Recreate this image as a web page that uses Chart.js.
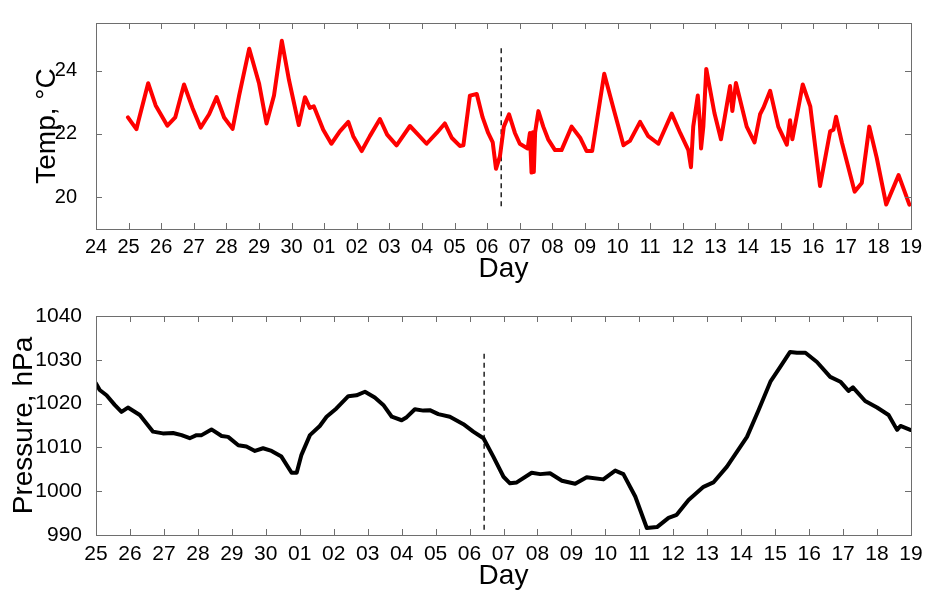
<!DOCTYPE html>
<html>
<head>
<meta charset="utf-8">
<title>Temperature and pressure</title>
<script src="https://cdn.jsdelivr.net/npm/chart.js@4.4.1/dist/chart.umd.min.js"></script>
<style>
  html, body { margin: 0; background: #fff; }
  .panel { position: absolute; left: 0; }
  #top { top: 0; }
  #bottom { top: 292px; }
</style>
</head>
<body>
<div class="panel" id="top"><canvas id="temp" width="928" height="292"></canvas></div>
<div class="panel" id="bottom"><canvas id="pres" width="928" height="302"></canvas></div>
<script>
// x values are days counted from the 24th (0 = 24, 7 = 01, 25 = 19)
const dayLabels = ["24", "25", "26", "27", "28", "29", "30", "01", "02", "03", "04", "05", "06",
  "07", "08", "09", "10", "11", "12", "13", "14", "15", "16", "17", "18", "19"];

const tempTicks = [20, 22, 24];
const presTicks = [990, 1000, 1010, 1020, 1030, 1040];

const tempDays = [0.98, 1.10, 1.24, 1.30, 1.60, 1.83, 2.19, 2.43, 2.70, 2.96, 3.21, 3.47, 3.70, 3.93,
  4.19, 4.39, 4.70, 5.00, 5.23, 5.46, 5.70, 5.92, 6.22, 6.41, 6.56, 6.68, 6.74, 6.97, 7.22, 7.48,
  7.74, 7.89, 8.15, 8.40, 8.71, 8.93, 9.22, 9.63, 9.88, 10.14, 10.45, 10.70, 10.91, 11.16, 11.27,
  11.47, 11.68, 11.86, 12.03, 12.17, 12.27, 12.39, 12.51, 12.67, 12.85, 13.00, 13.24, 13.31, 13.36,
  13.40, 13.43, 13.47, 13.57, 13.72, 13.87, 14.08, 14.28, 14.59, 14.85, 15.05, 15.22, 15.59, 15.87,
  16.18, 16.25, 16.38, 16.69, 16.94, 17.25, 17.66, 17.92, 18.17, 18.25, 18.32, 18.46, 18.52, 18.56,
  18.63, 18.72, 18.97, 19.17, 19.45, 19.52, 19.63, 19.96, 20.20, 20.37, 20.47, 20.68, 20.93, 21.19,
  21.29, 21.36, 21.68, 21.91, 22.21, 22.52, 22.62, 22.70, 22.88, 23.27, 23.49, 23.72, 23.95, 24.24,
  24.62, 24.95];
const tempValues = [22.52, 22.35, 22.15, 22.40, 23.60, 22.90, 22.26, 22.52, 23.56, 22.82, 22.20, 22.62,
  23.16, 22.52, 22.16, 23.21, 24.69, 23.60, 22.33, 23.21, 24.94, 23.70, 22.28, 23.16, 22.82, 22.87,
  22.72, 22.13, 21.69, 22.08, 22.38, 21.93, 21.46, 21.93, 22.47, 21.98, 21.64, 22.25, 21.98, 21.69,
  22.03, 22.33, 21.88, 21.62, 21.64, 23.21, 23.26, 22.52, 22.03, 21.73, 20.90, 21.29, 22.23, 22.62,
  22.03, 21.69, 21.54, 22.03, 20.78, 22.05, 20.80, 22.05, 22.72, 22.23, 21.83, 21.49, 21.49, 22.23,
  21.88, 21.46, 21.46, 23.90, 22.82, 21.64, 21.70, 21.78, 22.38, 21.93, 21.69, 22.64, 22.03, 21.49,
  20.95, 22.23, 23.21, 22.40, 21.54, 22.23, 24.05, 22.66, 21.83, 23.51, 22.72, 23.61, 22.23, 21.73,
  22.62, 22.82, 23.36, 22.23, 21.66, 22.43, 21.83, 23.56, 22.87, 20.36, 22.08, 22.13, 22.54, 21.73,
  20.18, 20.45, 22.23, 21.24, 19.77, 20.70, 19.77];

const presDays = [1.00, 1.11, 1.31, 1.55, 1.75, 1.94, 2.29, 2.68, 2.97, 3.27, 3.52, 3.76, 3.96, 4.11,
  4.40, 4.70, 4.89, 5.19, 5.43, 5.68, 5.92, 6.17, 6.46, 6.76, 6.91, 7.05, 7.30, 7.59, 7.79, 8.08,
  8.43, 8.67, 8.92, 9.21, 9.46, 9.71, 10.00, 10.15, 10.39, 10.64, 10.83, 11.08, 11.42, 11.82, 12.11,
  12.41, 12.70, 13.00, 13.19, 13.39, 13.83, 14.08, 14.37, 14.72, 15.11, 15.45, 15.94, 16.29, 16.53,
  16.88, 17.22, 17.52, 17.86, 18.10, 18.45, 18.89, 19.18, 19.58, 20.17, 20.51, 20.86, 21.15, 21.44,
  21.64, 21.89, 22.23, 22.62, 22.92, 23.16, 23.29, 23.65, 24.00, 24.34, 24.59, 24.69, 24.98];
const presValues = [1024.6, 1023.1, 1021.9, 1019.7, 1018.1, 1019.1, 1017.4, 1013.6, 1013.2, 1013.3,
  1012.8, 1012.1, 1012.8, 1012.8, 1014.1, 1012.6, 1012.4, 1010.5, 1010.2, 1009.2, 1009.8, 1009.2,
  1007.9, 1004.2, 1004.2, 1008.3, 1012.8, 1014.9, 1017.0, 1018.9, 1021.7, 1021.9, 1022.7, 1021.4,
  1019.7, 1017.0, 1016.2, 1016.9, 1018.7, 1018.4, 1018.5, 1017.6, 1017.0, 1015.3, 1013.6, 1012.1,
  1007.9, 1003.3, 1001.8, 1002.0, 1004.2, 1003.9, 1004.1, 1002.4, 1001.7, 1003.2, 1002.7, 1004.7,
  1003.9, 998.8, 991.6, 991.8, 993.9, 994.6, 998.0, 1001.0, 1002.0, 1005.6, 1012.4, 1018.5, 1025.0,
  1028.4, 1031.8, 1031.6, 1031.6, 1029.5, 1026.1, 1025.0, 1022.9, 1023.7, 1020.6, 1019.1, 1017.4,
  1014.0, 1014.9, 1014.0];

// event marker (dashed vertical line) and its vertical extent on each panel
const markerDay = 12.43;
const tempMarkerSpan = [19.72, 24.83];
const presMarkerSpan = [991.2, 1032.2];

const FONT = "'Liberation Sans', Arial, Helvetica, sans-serif";
const pts = (xs, ys) => xs.map((x, i) => ({ x, y: ys[i] }));

// matlab-style frame: grey box with short inward ticks on all four sides
const boxTicks = {
  id: "boxTicks",
  afterDatasetsDraw(chart) {
    const { ctx, chartArea: a, scales } = chart;
    const len = 6;
    ctx.save();
    ctx.strokeStyle = "#6e6e6e";
    ctx.lineWidth = 1;
    ctx.beginPath();
    scales.x.ticks.forEach((t) => {
      const px = Math.round(scales.x.getPixelForValue(t.value)) + 0.5;
      ctx.moveTo(px, a.bottom); ctx.lineTo(px, a.bottom - len);
      ctx.moveTo(px, a.top); ctx.lineTo(px, a.top + len);
    });
    scales.y.ticks.forEach((t) => {
      const py = Math.round(scales.y.getPixelForValue(t.value)) + 0.5;
      ctx.moveTo(a.left, py); ctx.lineTo(a.left + len, py);
      ctx.moveTo(a.right, py); ctx.lineTo(a.right - len, py);
    });
    ctx.stroke();
    ctx.strokeRect(Math.round(a.left) + 0.5, Math.round(a.top) + 0.5,
      Math.round(a.right - a.left), Math.round(a.bottom - a.top));
    ctx.restore();
  },
};

function panel(id, cfg) {
  return new Chart(document.getElementById(id), {
    type: "line",
    data: {
      datasets: [
        { data: cfg.series, borderColor: cfg.color, borderWidth: 4, pointRadius: 0,
          tension: 0, fill: false, borderJoinStyle: "round", borderCapStyle: "round" },
        { data: cfg.marker, borderColor: "#222", borderWidth: 1.5, borderDash: [5, 4],
          pointRadius: 0, fill: false },
      ],
    },
    options: {
      responsive: false,
      animation: false,
      layout: { padding: cfg.padding },
      plugins: { legend: { display: false }, tooltip: { enabled: false } },
      scales: {
        x: {
          type: "linear", min: cfg.xMin, max: 25,
          grid: { display: false }, border: { display: false },
          ticks: { stepSize: 1, autoSkip: false, maxRotation: 0, color: "#000",
            padding: cfg.xTickPad, font: { family: FONT, size: cfg.xTickSize, lineHeight: 1 },
            callback: (v) => dayLabels[v] },
          title: { display: true, text: "Day", color: "#000",
            font: { family: FONT, size: 28 }, padding: { top: 0, bottom: cfg.xTitlePad } },
          afterFit: (s) => { s.height = cfg.xHeight; },
        },
        y: {
          min: cfg.yMin, max: cfg.yMax,
          grid: { display: false }, border: { display: false },
          ticks: { color: "#000", padding: cfg.yTickPad,
            font: { family: FONT, size: cfg.yTickSize },
            callback: (v) => String(v) },
          afterBuildTicks: (s) => { s.ticks = cfg.yTicks.map((v) => ({ value: v })); },
          title: { display: true, text: cfg.yTitle, color: "#000",
            font: { family: FONT, size: 28 }, padding: { top: cfg.yTitlePad, bottom: 0 } },
          afterFit: (s) => { s.width = 96; },
        },
      },
    },
    plugins: [boxTicks],
  });
}

panel("temp", {
  series: pts(tempDays, tempValues),
  marker: pts([markerDay, markerDay], tempMarkerSpan),
  color: "#ff0000",
  padding: { top: 9, right: 17, left: 0, bottom: 0 },
  xMin: 0, xHeight: 63, xTickPad: 0, xTickSize: 20, xTitlePad: 6,
  yMin: 19, yMax: 25.5, yTicks: tempTicks, yTickPad: 11, yTickSize: 20,
  yTitle: "Temp, \u00B0C", yTitlePad: 30,
});

panel("pres", {
  series: pts(presDays, presValues),
  marker: pts([markerDay, markerDay], presMarkerSpan),
  color: "#000000",
  padding: { top: 24, right: 17, left: 0, bottom: 0 },
  xMin: 1, xHeight: 59, xTickPad: 1, xTickSize: 21, xTitlePad: 1,
  yMin: 990, yMax: 1040, yTicks: presTicks, yTickPad: 6, yTickSize: 21,
  yTitle: "Pressure, hPa", yTitlePad: 7,
});
</script>
</body>
</html>
